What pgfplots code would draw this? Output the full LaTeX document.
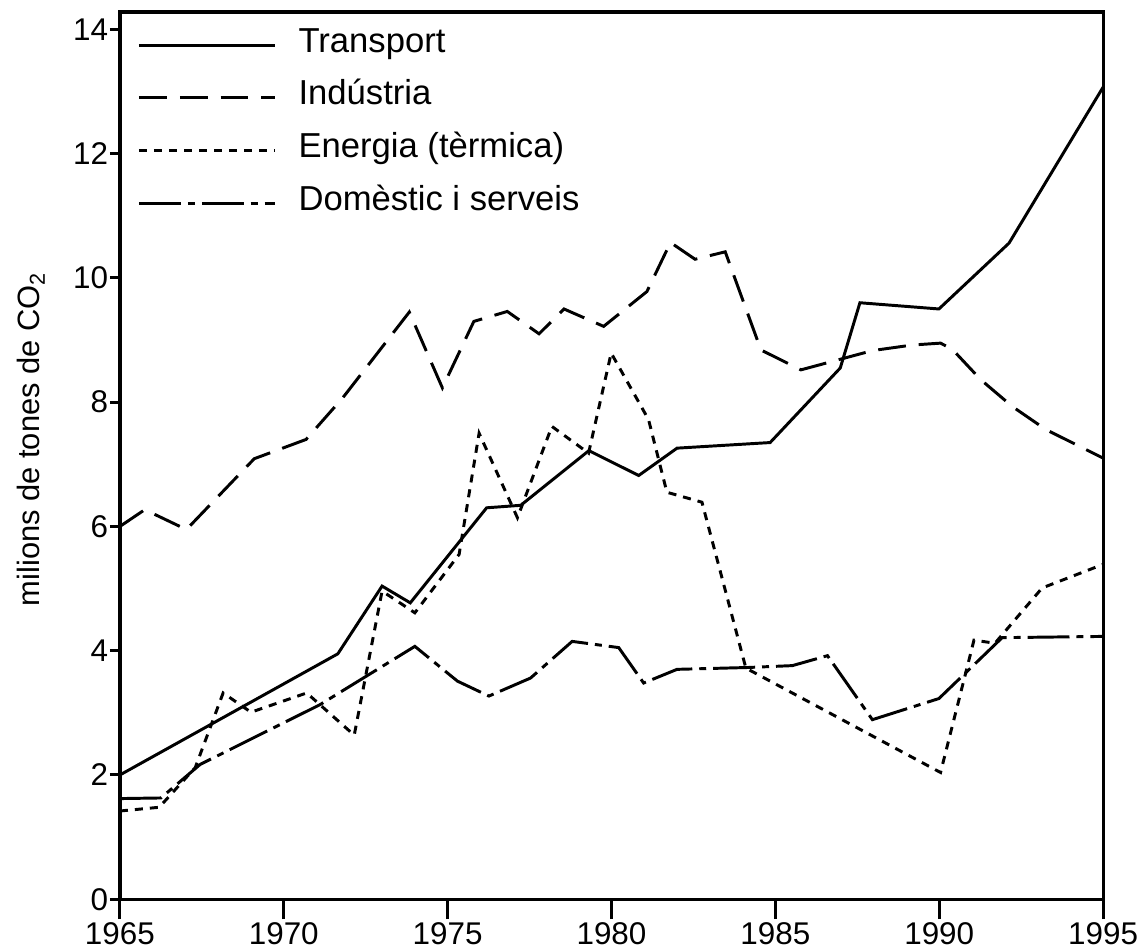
\documentclass[border=0pt]{standalone}
\usepackage{pgfplots}
\pgfplotsset{compat=1.18}
\usepackage{fontspec}
\setmainfont{Liberation Sans}

\pgfplotstableread{
x y
1965 2.00
1971.65 3.95
1973.0 5.04
1973.86 4.77
1976.19 6.30
1977.23 6.34
1979.31 7.22
1980.83 6.82
1982.0 7.26
1984.84 7.35
1986.98 8.55
1987.58 9.60
1989.99 9.50
1992.13 10.56
1995 13.07
}\transport
\pgfplotstableread{
x y
1965 6.00
1965.76 6.27
1967.03 5.95
1969.1 7.09
1970.68 7.40
1971.8 8.07
1973.83 9.45
1974.84 8.23
1975.8 9.30
1976.82 9.46
1977.79 9.10
1978.55 9.50
1979.76 9.22
1981.08 9.78
1981.8 10.57
1982.55 10.30
1983.47 10.42
1984.56 8.84
1985.78 8.52
1987.96 8.83
1989.18 8.92
1990.04 8.95
1990.4 8.85
1991.27 8.36
1992.23 7.93
1993.25 7.56
1995 7.10
}\industria
\pgfplotstableread{
x y
1965 1.42
1966.2 1.48
1967.3 2.12
1968.15 3.32
1969.0 3.01
1970.7 3.32
1972.15 2.64
1973.0 4.96
1974.0 4.61
1975.35 5.55
1975.96 7.50
1977.13 6.14
1978.18 7.61
1979.3 7.18
1979.99 8.79
1981.13 7.72
1981.69 6.55
1982.76 6.39
1984.1 3.72
1990.04 2.04
1991.06 4.17
1991.7 4.12
1993.14 5.01
1995 5.39
}\energia
\pgfplotstableread{
x y
1965 1.62
1966.25 1.63
1967.45 2.17
1971.1 3.13
1974.0 4.07
1975.3 3.51
1976.26 3.27
1977.53 3.56
1978.8 4.15
1980.22 4.05
1980.98 3.48
1982.0 3.70
1984.18 3.73
1985.52 3.76
1986.59 3.92
1987.96 2.89
1989.99 3.23
1991.92 4.21
1995 4.23
}\domestic

\begin{document}
\begin{tikzpicture}
\begin{axis}[
  scale only axis,
  width=12.871cm, height=11.615cm,
  xmin=1965, xmax=1995, ymin=0, ymax=14.28,
  xtick=\empty,
  extra x ticks={1965,1970,1975,1980,1985,1990,1995},
  extra x tick style={major tick length=7.4pt, tick align=outside, xticklabel style={inner ysep=1pt}},
  ytick={0,2,...,14},
  tick align=outside,
  xtick pos=bottom, ytick pos=left,
  major tick length=3.7pt,
  every tick/.style={line width=1.1pt, black},
  axis line style={line width=1.2pt},
  /pgf/number format/1000 sep={},
  /pgf/number format/assume math mode=true,
  tick label style={font=\fontsize{11.7}{14}\selectfont},
  xticklabel style={inner ysep=1pt},
  yticklabel style={inner xsep=0.5pt},
  ylabel={milions de tones de CO\textsubscript{2}},
  every axis y label/.style={at={(axis description cs:-0.0813,0.5186)}, rotate=90, anchor=base, font=\fontsize{11.5}{14}\selectfont},
  legend style={draw=none, fill=none, at={(axis description cs:0,1)}, anchor=north west,
    xshift=0.23cm, yshift=-0.274cm, inner sep=0pt, outer sep=0pt, row sep=10.4pt,
    font=\fontsize{12.9}{15}\selectfont,
    nodes={inner sep=0pt, text height=0.72em, text depth=0.2em},
    /tikz/every odd column/.append style={column sep=0.29cm}},
  legend cell align=left,
  legend image code/.code={\draw[#1] (0cm,0cm) -- (1.78cm,0cm);},
  every axis plot/.append style={line width=1.1pt, black, mark=none},
]
\addplot[solid] table[x=x,y=y] {\transport};
\addlegendentry{Transport}
\addplot[dash pattern=on 10.4pt off 4.8pt] table[x=x,y=y] {\industria};
\addlegendentry{Indústria}
\addplot[dash pattern=on 3pt off 2.6pt] table[x=x,y=y] {\energia};
\addlegendentry{Energia (tèrmica)}
\addplot[dash pattern=on 15.6pt off 2.6pt on 2.6pt off 2.6pt] table[x=x,y=y] {\domestic};
\addlegendentry{Domèstic i serveis}
\coordinate (bbSW) at (rel axis cs:-0.12195,-0.05743);
\coordinate (bbNE) at (rel axis cs:1.0437,1.01351);
\end{axis}
\path (bbSW) rectangle (bbNE);
\end{tikzpicture}
\end{document}
